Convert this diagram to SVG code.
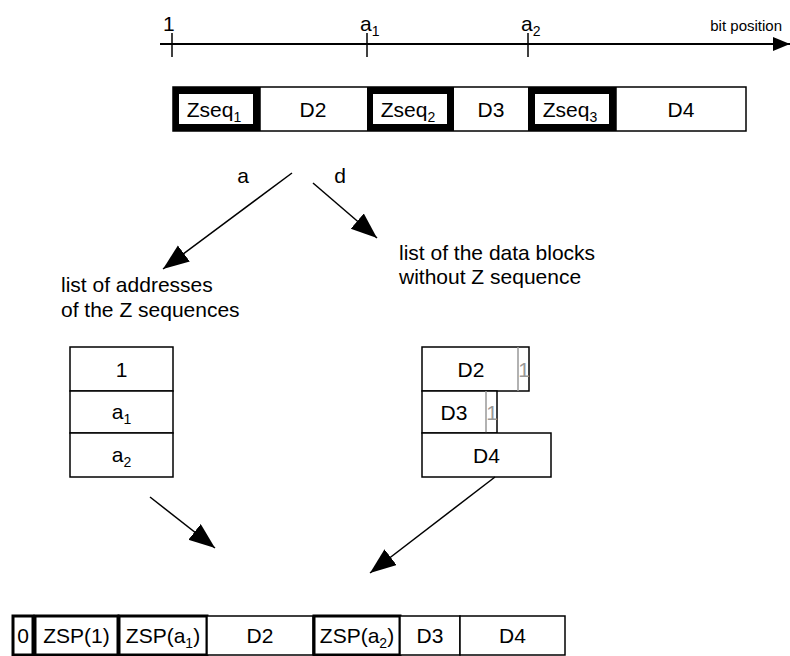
<svg xmlns="http://www.w3.org/2000/svg" width="790" height="656" viewBox="0 0 790 656">
<defs>
<style>
text{font-family:"Liberation Sans",Arial,sans-serif;fill:#000}
.t{font-size:21px}
.c{text-anchor:middle}
.box{fill:#fff;stroke:#000;stroke-width:1.5}
.zbox{fill:#fff;stroke:#000;stroke-width:3}
.ln{stroke:#000;stroke-width:1.5;fill:none}
.gt{fill:#999}
</style>
<marker id="ah" markerUnits="userSpaceOnUse" markerWidth="28" markerHeight="22" refX="26" refY="10" orient="auto">
<path d="M0,0 L26,10 L0,20 Z" fill="#000"/>
</marker>
<marker id="ax" markerUnits="userSpaceOnUse" markerWidth="18" markerHeight="16" refX="17" refY="7" orient="auto">
<path d="M0,0 L17,7 L0,14 Z" fill="#000"/>
</marker>
</defs>

<g id="axis">
<line x1="160" y1="44" x2="790" y2="44" stroke="#000" stroke-width="2" marker-end="url(#ax)"/>
<line x1="172" y1="33" x2="172" y2="57" class="ln"/>
<line x1="367" y1="33" x2="367" y2="57" class="ln"/>
<line x1="528" y1="33" x2="528" y2="57" class="ln"/>
<text class="t" x="163" y="31">1</text>
<text class="t" x="360" y="31">a<tspan font-size="14" dy="5">1</tspan></text>
<text class="t" x="521" y="31">a<tspan font-size="14" dy="5">2</tspan></text>
<text x="782" y="31" font-size="15" text-anchor="end">bit position</text>
</g>

<g id="bar">
<rect x="173" y="87" width="573" height="44" class="box"/>
<rect x="173" y="87" width="87" height="44" fill="#000"/>
<rect x="179" y="94" width="74" height="30" fill="#fff"/>
<rect x="367" y="87" width="87" height="44" fill="#000"/>
<rect x="373" y="94" width="74" height="30" fill="#fff"/>
<rect x="528" y="87" width="88" height="44" fill="#000"/>
<rect x="535" y="94" width="74" height="30" fill="#fff"/>
<line x1="260" y1="87" x2="260" y2="131" class="ln"/>
<line x1="616" y1="87" x2="616" y2="131" class="ln"/>
<text class="t c" x="214" y="117">Zseq<tspan font-size="14" dy="5">1</tspan></text>
<text class="t c" x="313" y="117">D2</text>
<text class="t c" x="408" y="117">Zseq<tspan font-size="14" dy="5">2</tspan></text>
<text class="t c" x="491" y="117">D3</text>
<text class="t c" x="570" y="117">Zseq<tspan font-size="14" dy="5">3</tspan></text>
<text class="t c" x="681" y="117">D4</text>
</g>

<g id="labels">
<text class="t c" x="243" y="183">a</text>
<text class="t c" x="340" y="183">d</text>
<text class="t" x="399" y="260">list of the data blocks</text>
<text class="t" x="399" y="284">without Z sequence</text>
<text class="t" x="61" y="292">list of addresses</text>
<text class="t" x="61" y="317">of the Z sequences</text>
</g>

<g id="addr-list">
<rect x="70" y="347" width="103" height="44" class="box"/>
<rect x="70" y="391" width="103" height="42" class="box"/>
<rect x="70" y="433" width="103" height="44" class="box"/>
<text class="t c" x="121.5" y="377">1</text>
<text class="t c" x="121.5" y="419">a<tspan font-size="14" dy="5">1</tspan></text>
<text class="t c" x="121.5" y="462">a<tspan font-size="14" dy="5">2</tspan></text>
</g>

<g id="data-list">
<rect x="422" y="347" width="107" height="44" class="box"/>
<line x1="518" y1="347" x2="518" y2="391" stroke="#999" stroke-width="1.5"/>
<text class="t gt c" x="524" y="377">1</text>
<text class="t c" x="471" y="377">D2</text>
<rect x="422" y="391" width="75" height="42" class="box"/>
<line x1="486" y1="391" x2="486" y2="433" stroke="#999" stroke-width="1.5"/>
<text class="t gt c" x="492" y="420">1</text>
<text class="t c" x="454" y="420">D3</text>
<rect x="422" y="433" width="129" height="44" class="box"/>
<text class="t c" x="486.5" y="463">D4</text>
</g>

<g id="connectors">
<line x1="292" y1="173" x2="163" y2="269" class="ln" marker-end="url(#ah)"/>
<line x1="313" y1="183" x2="377" y2="238" class="ln" marker-end="url(#ah)"/>
<line x1="150" y1="497" x2="215" y2="548" class="ln" marker-end="url(#ah)"/>
<line x1="495" y1="477" x2="370" y2="573" class="ln" marker-end="url(#ah)"/>
</g>

<g id="result">
<rect x="13" y="616" width="20" height="39" class="zbox"/>
<rect x="35" y="616" width="83" height="39" class="zbox"/>
<rect x="119" y="616" width="88" height="39" class="zbox"/>
<rect x="207" y="616" width="106" height="39" class="box"/>
<rect x="314" y="616" width="86" height="39" class="zbox"/>
<rect x="400" y="616" width="60" height="39" class="box"/>
<rect x="460" y="616" width="105" height="39" class="box"/>
<text class="t c" x="23" y="643">0</text>
<text class="t c" x="76.5" y="643">ZSP(1)</text>
<text class="t c" x="163" y="643">ZSP(a<tspan font-size="14" dy="5">1</tspan><tspan dy="-5">)</tspan></text>
<text class="t c" x="260" y="643">D2</text>
<text class="t c" x="357" y="643">ZSP(a<tspan font-size="14" dy="5">2</tspan><tspan dy="-5">)</tspan></text>
<text class="t c" x="430" y="643">D3</text>
<text class="t c" x="512.5" y="643">D4</text>
</g>
</svg>
